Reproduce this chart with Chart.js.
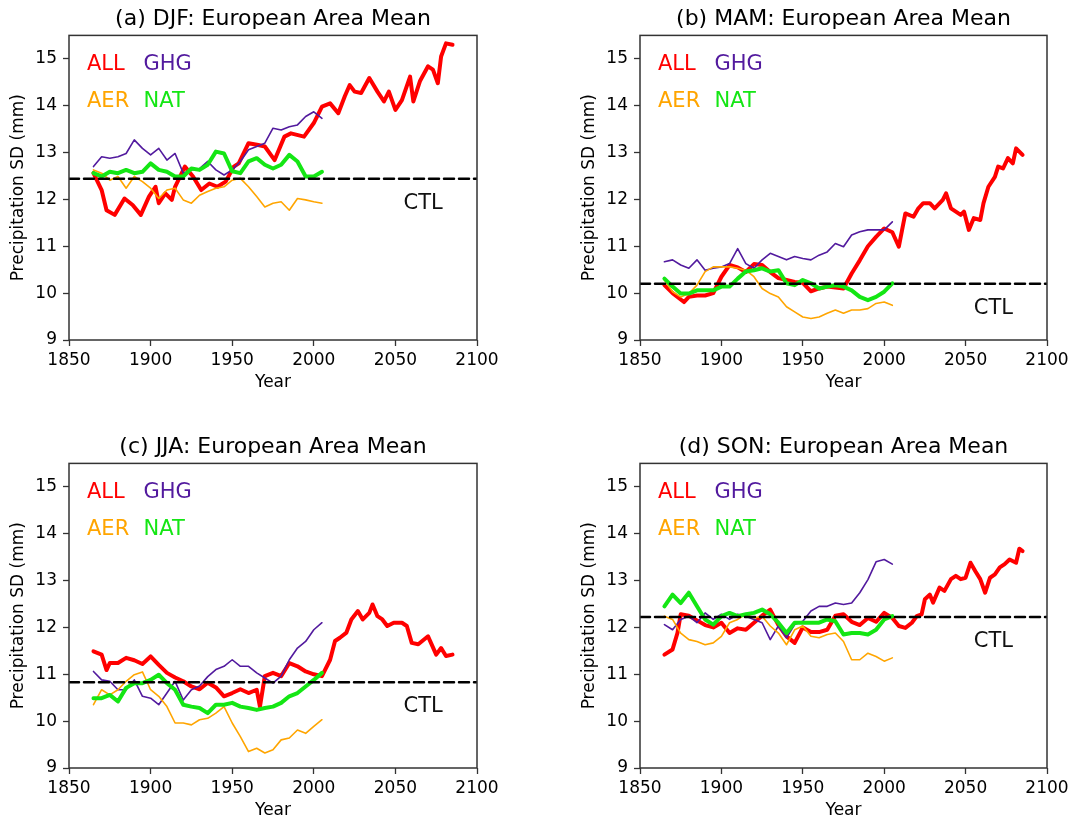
<!DOCTYPE html>
<html>
<head>
<meta charset="utf-8">
<script src="https://cdn.jsdelivr.net/npm/chart.js@4.4.1/dist/chart.umd.min.js"></script>
<style>
  html, body { margin: 0; padding: 0; background: #fff; overflow: hidden; }
  #wrap { position: relative; width: 1074px; height: 820px; overflow: hidden; background: #fff; }
  canvas { position: absolute; }
</style>
</head>
<body>
<div id="wrap">
  <canvas id="chartA" width="546" height="394" style="left:0;top:0"></canvas>
  <canvas id="chartB" width="545" height="394" style="left:571px;top:0"></canvas>
  <canvas id="chartC" width="546" height="394" style="left:0;top:428px"></canvas>
  <canvas id="chartD" width="545" height="394" style="left:571px;top:428px"></canvas>
</div>
<script>
// years of the 30-yr running windows (historical forcing runs)
const yearsHist = [1865, 1870, 1875, 1880, 1885, 1890, 1895, 1900, 1905, 1910, 1915, 1920, 1925, 1930, 1935,
  1940, 1945, 1950, 1955, 1960, 1965, 1970, 1975, 1980, 1985, 1990, 1995, 2000, 2005];

// (a) DJF
const djfAllYears = [1865, 1870, 1873, 1878, 1884, 1889, 1894, 1899, 1903, 1905, 1909, 1913, 1915, 1921, 1926,
  1931, 1936, 1941, 1946, 1951, 1954, 1960, 1966, 1970, 1976, 1982, 1986, 1994, 2000, 2005,
  2010, 2015, 2019, 2022, 2025, 2029, 2034, 2039, 2043, 2046, 2050, 2054, 2059, 2061, 2065, 2070, 2073,
  2076, 2078, 2081, 2085];
const djfAll = [12.56, 12.2, 11.77, 11.67, 12.02, 11.88, 11.67, 12.06, 12.27, 11.92, 12.13, 11.99, 12.27, 12.7, 12.49,
  12.2, 12.34, 12.27, 12.38, 12.7, 12.77, 13.2, 13.16, 13.13, 12.84, 13.34, 13.41, 13.34, 13.63, 13.98,
  14.05, 13.84, 14.2, 14.44, 14.3, 14.27, 14.59, 14.3, 14.09, 14.3, 13.91, 14.12, 14.62, 14.09, 14.52, 14.84, 14.77,
  14.48, 15.05, 15.33, 15.3];
const djfGhg = [12.7, 12.91, 12.88, 12.91, 12.98, 13.27, 13.09, 12.95, 13.09, 12.84, 12.98, 12.56, 12.63, 12.66, 12.81,
  12.63, 12.52, 12.63, 12.81, 13.06, 13.13, 13.2, 13.52, 13.48, 13.55, 13.59, 13.77, 13.87, 13.73];
const djfAer = [12.63, 12.56, 12.41, 12.49, 12.24, 12.49, 12.38, 12.24, 12.02, 12.2, 12.24, 11.99, 11.92, 12.09, 12.17,
  12.24, 12.27, 12.41, 12.45, 12.27, 12.06, 11.84, 11.92, 11.95, 11.77, 12.02, 11.99, 11.95, 11.92];
const djfNat = [12.56, 12.49, 12.59, 12.56, 12.63, 12.56, 12.59, 12.77, 12.63, 12.59, 12.49, 12.49, 12.66, 12.63, 12.74,
  13.02, 12.98, 12.6, 12.56, 12.81, 12.88, 12.74, 12.66, 12.74, 12.95, 12.81, 12.49, 12.49, 12.59];

// (b) MAM
const mamAllYears = [1865, 1870, 1877, 1880, 1885, 1890, 1895, 1900, 1905, 1910, 1915, 1920, 1925, 1930, 1935,
  1940, 1945, 1950, 1955, 1960, 1965, 1970, 1975, 1980, 1985, 1990, 1995, 2000, 2005, 2009,
  2011, 2013, 2018, 2021, 2024, 2028, 2031, 2036, 2038, 2041, 2044, 2047, 2049, 2052, 2055, 2059, 2061,
  2064, 2068, 2070, 2073, 2076, 2079, 2081, 2085];
const mamAll = [10.17, 10.0, 9.81, 9.92, 9.95, 9.95, 10.0, 10.35, 10.6, 10.55, 10.45, 10.62, 10.6, 10.45, 10.32,
  10.28, 10.24, 10.22, 10.04, 10.1, 10.14, 10.12, 10.1, 10.42, 10.7, 11.0, 11.2, 11.38, 11.3, 10.99,
  11.35, 11.7, 11.63, 11.81, 11.92, 11.92, 11.81, 11.99, 12.13, 11.81, 11.74, 11.67, 11.74, 11.35, 11.6, 11.56, 11.92,
  12.27, 12.48, 12.7, 12.66, 12.88, 12.77, 13.09, 12.95];
const mamGhg = [10.67, 10.71, 10.6, 10.53, 10.71, 10.49, 10.53, 10.56, 10.63, 10.95, 10.63, 10.53, 10.71, 10.85, 10.78,
  10.71, 10.78, 10.74, 10.71, 10.81, 10.88, 11.06, 10.99, 11.24, 11.31, 11.35, 11.35, 11.35, 11.52];
const mamAer = [10.28, 10.03, 9.92, 9.99, 10.17, 10.46, 10.56, 10.56, 10.56, 10.53, 10.49, 10.35, 10.1, 9.99, 9.92,
  9.71, 9.6, 9.49, 9.46, 9.49, 9.57, 9.64, 9.57, 9.64, 9.64, 9.67, 9.78, 9.81, 9.74];
const mamNat = [10.31, 10.14, 9.99, 9.99, 10.06, 10.06, 10.06, 10.14, 10.14, 10.31, 10.46, 10.49, 10.53, 10.46, 10.49,
  10.21, 10.17, 10.28, 10.21, 10.1, 10.14, 10.17, 10.14, 10.06, 9.92, 9.85, 9.92, 10.03, 10.21];

// (c) JJA
const jjaAllYears = [1865, 1870, 1873, 1875, 1880, 1885, 1890, 1895, 1900, 1905, 1910, 1915, 1920, 1925, 1930,
  1935, 1940, 1945, 1950, 1955, 1960, 1965, 1967, 1970, 1975, 1980, 1985, 1990, 1995, 2000, 2005,
  2010, 2013, 2016, 2020, 2023, 2027, 2030, 2034, 2036, 2039, 2042, 2045, 2049, 2054, 2057, 2060,
  2064, 2070, 2075, 2078, 2081, 2085];
const jjaAll = [11.49, 11.42, 11.09, 11.24, 11.24, 11.35, 11.3, 11.22, 11.38, 11.2, 11.03, 10.93, 10.85, 10.74, 10.68,
  10.82, 10.72, 10.53, 10.6, 10.68, 10.6, 10.67, 10.31, 10.96, 11.03, 10.96, 11.24, 11.17, 11.06, 11.0, 10.96,
  11.31, 11.71, 11.78, 11.89, 12.17, 12.35, 12.17, 12.31, 12.49, 12.24, 12.17, 12.03, 12.1, 12.1, 12.03, 11.67,
  11.64, 11.81, 11.42, 11.56, 11.39, 11.42];
const jjaGhg = [11.06, 10.88, 10.85, 10.67, 10.67, 10.88, 10.53, 10.49, 10.35, 10.6, 10.85, 10.45, 10.67, 10.75, 10.95,
  11.1, 11.17, 11.31, 11.17, 11.17, 11.03, 10.92, 10.81, 10.96, 11.31, 11.56, 11.7, 11.95, 12.1];
const jjaAer = [10.35, 10.67, 10.56, 10.67, 10.85, 10.99, 11.05, 10.67, 10.53, 10.31, 9.96, 9.96, 9.92, 10.03, 10.06,
  10.17, 10.31, 9.96, 9.67, 9.35, 9.42, 9.32, 9.39, 9.6, 9.64, 9.81, 9.74, 9.89, 10.03];
const jjaNat = [10.49, 10.49, 10.56, 10.42, 10.71, 10.81, 10.81, 10.88, 10.99, 10.81, 10.67, 10.35, 10.31, 10.28, 10.17,
  10.35, 10.35, 10.39, 10.31, 10.28, 10.24, 10.28, 10.31, 10.39, 10.53, 10.6, 10.74, 10.88, 11.03];

// (d) SON
const sonAllYears = [1865, 1870, 1873, 1875, 1880, 1885, 1890, 1895, 1900, 1905, 1910, 1915, 1920, 1925, 1930,
  1935, 1940, 1945, 1950, 1955, 1960, 1965, 1970, 1975, 1980, 1985, 1990, 1995, 2000, 2005,
  2009, 2013, 2017, 2020, 2023, 2025, 2028, 2030, 2034, 2037, 2041, 2044, 2047, 2050, 2053, 2056, 2059,
  2062, 2065, 2068, 2071, 2074, 2077, 2081, 2083, 2085];
const sonAll = [11.42, 11.53, 11.88, 12.28, 12.25, 12.15, 12.05, 12.0, 12.1, 11.88, 11.98, 11.95, 12.1, 12.25, 12.38,
  12.05, 11.81, 11.67, 12.0, 11.9, 11.9, 11.95, 12.25, 12.28, 12.12, 12.05, 12.2, 12.12, 12.31, 12.2,
  12.03, 11.99, 12.1, 12.24, 12.28, 12.6, 12.7, 12.53, 12.85, 12.78, 13.03, 13.1, 13.03, 13.06, 13.38, 13.2, 13.03,
  12.74, 13.06, 13.13, 13.28, 13.35, 13.45, 13.38, 13.68, 13.63];
const sonGhg = [12.06, 11.95, 12.17, 12.24, 12.1, 12.31, 12.17, 12.28, 12.17, 12.28, 12.24, 12.17, 12.1, 11.74, 12.03,
  11.78, 12.06, 12.13, 12.35, 12.45, 12.45, 12.52, 12.49, 12.52, 12.74, 13.02, 13.4, 13.45, 13.35];
const sonAer = [12.24, 12.17, 11.88, 11.74, 11.7, 11.63, 11.67, 11.81, 12.1, 12.17, 12.28, 12.2, 12.24, 12.03, 11.88,
  11.63, 11.95, 12.03, 11.81, 11.78, 11.85, 11.88, 11.7, 11.31, 11.31, 11.45, 11.38, 11.28, 11.35];
const sonNat = [12.45, 12.7, 12.52, 12.74, 12.45, 12.17, 12.06, 12.24, 12.31, 12.24, 12.28, 12.31, 12.38, 12.28, 12.1,
  11.88, 12.1, 12.1, 12.1, 12.1, 12.17, 12.13, 11.85, 11.88, 11.88, 11.85, 11.95, 12.17, 12.24];

// control run level per season
const ctlLevels = [12.44, 10.2, 10.83, 12.22];
const panelTitles = ['(a) DJF: European Area Mean', '(b) MAM: European Area Mean',
  '(c) JJA: European Area Mean', '(d) SON: European Area Mean'];
const seriesNames = ['ALL', 'GHG', 'AER', 'NAT'];
const seriesColors = ['#ff0000', '#521a9e', '#ffa500', '#14e614'];

const panels = [
  { id: 'chartA', allYears: djfAllYears, all: djfAll, ghg: djfGhg, aer: djfAer, nat: djfNat },
  { id: 'chartB', allYears: mamAllYears, all: mamAll, ghg: mamGhg, aer: mamAer, nat: mamNat },
  { id: 'chartC', allYears: jjaAllYears, all: jjaAll, ghg: jjaGhg, aer: jjaAer, nat: jjaNat },
  { id: 'chartD', allYears: sonAllYears, all: sonAll, ghg: sonGhg, aer: sonAer, nat: sonNat }
];

Chart.defaults.font.family = '"DejaVu Sans", sans-serif';
Chart.defaults.color = '#000';

function toPoints(years, vals) {
  return vals.map((v, i) => ({ x: years[i], y: v }));
}

// box around the plot + in-plot labels (ALL GHG / AER NAT, CTL)
const framePlugin = {
  id: 'frame',
  afterDatasetsDraw(chart) {
    const { ctx, chartArea: a, scales } = chart;
    const ctl = chart.options.plugins.frame.ctl;
    ctx.save();
    ctx.strokeStyle = '#333';
    ctx.lineWidth = 1.5;
    ctx.strokeRect(a.left, a.top, a.right - a.left, a.bottom - a.top);

    ctx.font = '21px "DejaVu Sans"';
    ctx.textAlign = 'left';
    ctx.textBaseline = 'alphabetic';
    seriesNames.forEach((name, i) => {
      const col = i % 2, row = Math.floor(i / 2);
      ctx.fillStyle = seriesColors[i];
      ctx.fillText(name, a.left + 18 + col * 56.5, a.top + 34.3 + row * 37.4);
    });
    ctx.fillStyle = '#111';
    ctx.fillText('CTL', scales.x.getPixelForValue(2055), scales.y.getPixelForValue(ctl) + 30);
    ctx.restore();
  }
};

panels.forEach((p, k) => {
  const ctl = ctlLevels[k];
  new Chart(document.getElementById(p.id), {
    type: 'line',
    data: {
      datasets: [
        { label: 'CTL', data: [{ x: 1850, y: ctl }, { x: 2100, y: ctl }],
          borderColor: '#000', borderWidth: 2.5, borderDash: [10, 5] },
        { label: 'NAT', data: toPoints(yearsHist, p.nat), borderColor: seriesColors[3], borderWidth: 4 },
        { label: 'AER', data: toPoints(yearsHist, p.aer), borderColor: seriesColors[2], borderWidth: 1.6 },
        { label: 'GHG', data: toPoints(yearsHist, p.ghg), borderColor: seriesColors[1], borderWidth: 1.6 },
        { label: 'ALL', data: toPoints(p.allYears, p.all), borderColor: seriesColors[0], borderWidth: 4 }
      ]
    },
    options: {
      responsive: false,
      animation: false,
      events: [],
      elements: { point: { radius: 0 }, line: { tension: 0, borderJoinStyle: 'round', borderCapStyle: 'round' } },
      layout: { padding: 0 },
      plugins: {
        legend: { display: false },
        tooltip: { enabled: false },
        title: {
          display: true, text: panelTitles[k], color: '#000',
          font: { size: 22, weight: 'normal' }, padding: { top: 6, bottom: 3 }
        },
        frame: { ctl: ctl }
      },
      scales: {
        x: {
          type: 'linear', min: 1850, max: 2100,
          afterFit: s => { s.height = 54; },
          border: { display: false },
          grid: { drawOnChartArea: false, drawTicks: true, tickLength: 6, tickColor: '#333', tickWidth: 1.3 },
          ticks: { stepSize: 50, padding: 4, maxRotation: 0, autoSkip: false, color: '#000',
            font: { size: 17 }, callback: v => String(v) },
          title: { display: true, text: 'Year', color: '#000', font: { size: 17 }, padding: { top: 0, bottom: 1 } }
        },
        y: {
          type: 'linear', min: 9, max: 15.5,
          afterFit: s => { s.width = 69; },
          border: { display: false },
          grid: { drawOnChartArea: false, drawTicks: true, tickLength: 6, tickColor: '#333', tickWidth: 1.3 },
          ticks: { stepSize: 1, includeBounds: false, padding: 6, color: '#000', font: { size: 17 } },
          title: { display: true, text: 'Precipitation SD (mm)', color: '#000', font: { size: 17 },
            padding: { top: 8, bottom: 0 } }
        },
        // empty right-hand box so the plot (and its title) sits centred in the canvas
        yRight: {
          type: 'linear', position: 'right', display: true,
          afterFit: s => { s.width = 69; },
          border: { display: false },
          grid: { display: false },
          ticks: { display: false }
        }
      }
    },
    plugins: [framePlugin]
  });
});
</script>
</body>
</html>
